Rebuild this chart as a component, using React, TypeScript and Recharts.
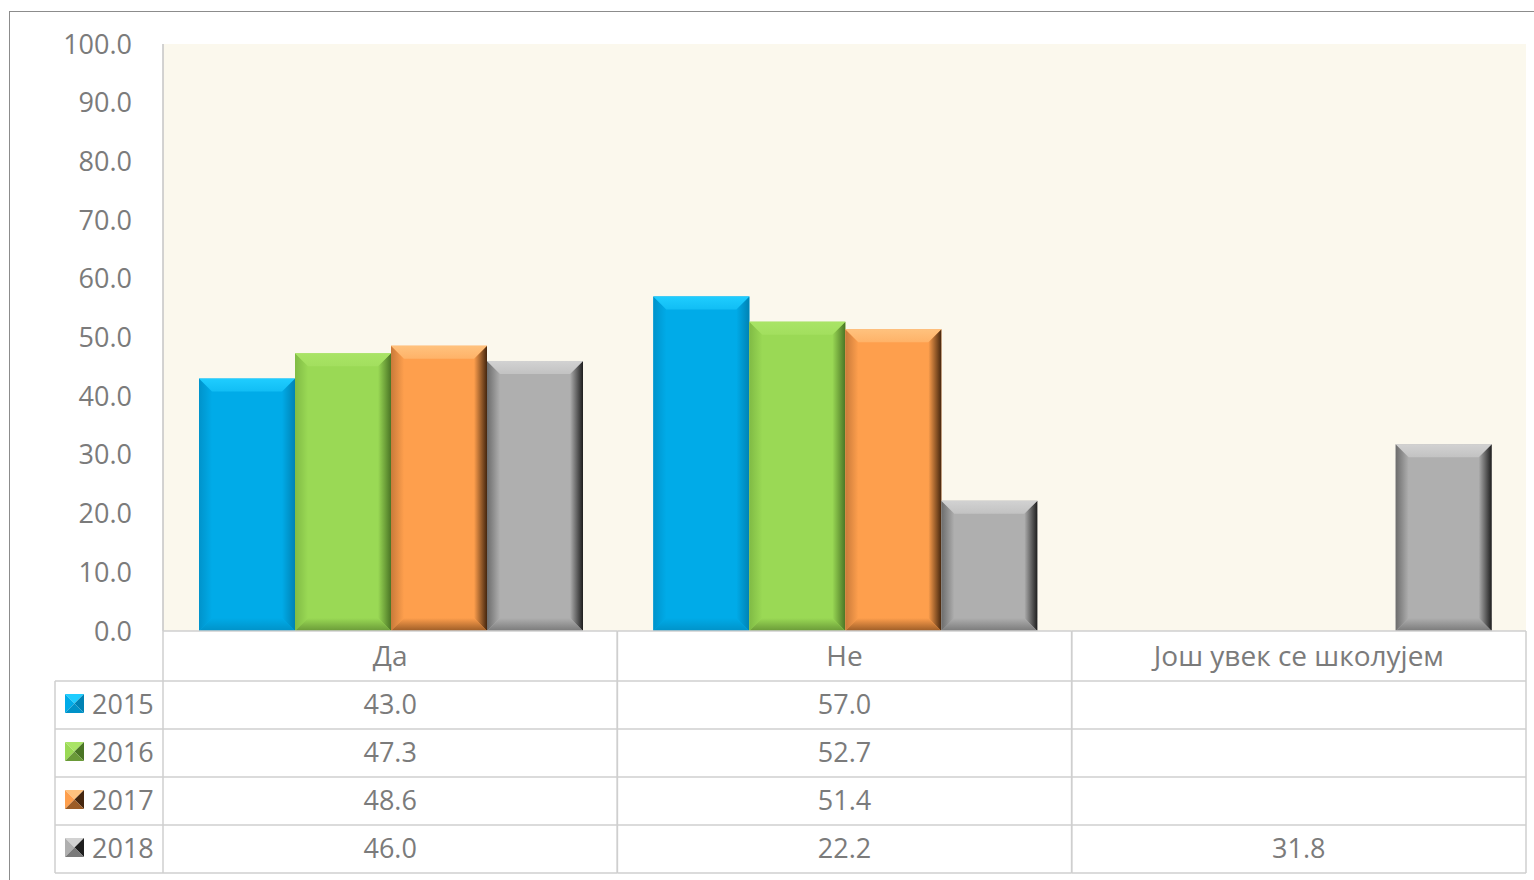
import React from 'react';
import { BarChart, Bar, XAxis, YAxis, CartesianGrid } from 'recharts';

// ---------- data ----------
const categories = ['Да', 'Не', 'Још увек се школујем'];
const seriesNames = ['2015', '2016', '2017', '2018'];
const values2015: (number | null)[] = [43.0, 57.0, null];
const values2016: (number | null)[] = [47.3, 52.7, null];
const values2017: (number | null)[] = [48.6, 51.4, null];
const values2018: (number | null)[] = [46.0, 22.2, 31.8];
const yTicks = [0, 10, 20, 30, 40, 50, 60, 70, 80, 90, 100];

const seriesValues = [values2015, values2016, values2017, values2018];
const seriesKeys = seriesNames.map((n) => 'y' + n);
const data = categories.map((c, i) => {
  const row: any = { category: c };
  seriesKeys.forEach((k, s) => {
    row[k] = seriesValues[s][i];
  });
  return row;
});

// ---------- layout / style ----------
const W = 1534;
const H = 880;
const MARGIN = { top: 44, right: 8, bottom: 7, left: 0 };
const Y_AXIS_W = 163;
const X_AXIS_H = 242;
const PLOT_W = W - MARGIN.left - MARGIN.right - Y_AXIS_W;
const HEADER_H = 50;
const ROW_H = 48;
const LEGEND_LEFT = 55;
const TEXT = '#7b7b7b';
const GRID = '#cfcfcf';
const FONT = '"Open Sans", "Noto Sans", sans-serif';
const FS = 27;

type Pal = { base: string; top: string; bottom: string; left: string; right: string };
const palettes: Pal[] = [
  { base: '#00abe8', top: '#1fcdff', bottom: '#0092c8', left: '#0093cb', right: '#0082b4' },
  { base: '#9ad955', top: '#a9e466', bottom: '#6a9a38', left: '#80bb45', right: '#4a7525' },
  { base: '#fe9f4d', top: '#ffc27e', bottom: '#9c5c26', left: '#c97a3a', right: '#45260e' },
  { base: '#afafaf', top: '#d2d2d2', bottom: '#7a7a7a', left: '#6c6c6c', right: '#1e1e1e' },
];

const makeBevel = (p: Pal, id: string) => (props: any) => {
  const { x, y, width: w, height: h, index } = props;
  if (h == null || !(h > 0) || !(w > 0)) return <g />;
  const b = Math.min(13, w / 2, h / 2);
  const gid = `${id}-${index}`;
  return (
    <g>
      <defs>
        <linearGradient id={`${gid}-l`} x1="0" y1="0" x2="1" y2="0">
          <stop offset="0" stopColor={p.left} />
          <stop offset="1" stopColor={p.base} />
        </linearGradient>
        <linearGradient id={`${gid}-r`} x1="0" y1="0" x2="1" y2="0">
          <stop offset="0" stopColor={p.base} />
          <stop offset="1" stopColor={p.right} />
        </linearGradient>
        <linearGradient id={`${gid}-t`} x1="0" y1="0" x2="0" y2="1">
          <stop offset="0" stopColor={p.top} />
          <stop offset="1" stopColor={p.top} stopOpacity={0.55} />
        </linearGradient>
        <linearGradient id={`${gid}-b`} x1="0" y1="0" x2="0" y2="1">
          <stop offset="0" stopColor={p.base} />
          <stop offset="1" stopColor={p.bottom} />
        </linearGradient>
      </defs>
      <rect x={x} y={y} width={w} height={h} fill={p.base} />
      <polygon
        points={`${x},${y} ${x + b},${y + b} ${x + b},${y + h - b} ${x},${y + h}`}
        fill={`url(#${gid}-l)`}
      />
      <polygon
        points={`${x + w},${y} ${x + w},${y + h} ${x + w - b},${y + h - b} ${x + w - b},${y + b}`}
        fill={`url(#${gid}-r)`}
      />
      <polygon
        points={`${x},${y + h} ${x + b},${y + h - b} ${x + w - b},${y + h - b} ${x + w},${y + h}`}
        fill={`url(#${gid}-b)`}
      />
      <polygon
        points={`${x},${y} ${x + w},${y} ${x + w - b},${y + b} ${x + b},${y + b}`}
        fill={`url(#${gid}-t)`}
      />
    </g>
  );
};

const LegendMarker = ({ x, y, p }: { x: number; y: number; p: Pal }) => {
  const s = 19;
  const cx = x + s / 2;
  const cy = y + s / 2;
  return (
    <g>
      <polygon points={`${x},${y} ${x + s},${y} ${cx},${cy}`} fill={p.top} />
      <polygon points={`${x},${y} ${cx},${cy} ${x},${y + s}`} fill={p.base} />
      <polygon points={`${x + s},${y} ${x + s},${y + s} ${cx},${cy}`} fill={p.right} />
      <polygon points={`${x},${y + s} ${cx},${cy} ${x + s},${y + s}`} fill={p.bottom} />
    </g>
  );
};

const TableColumn = (props: any) => {
  const { x, y, payload } = props;
  const i: number = payload && payload.index != null ? payload.index : props.index;
  const bw = PLOT_W / categories.length;
  const left = x - bw / 2;
  const right = x + bw / 2;
  const top = y;
  const rowsTop = top + HEADER_H;
  const bottom = rowsTop + ROW_H * seriesNames.length;
  const lines: React.ReactNode[] = [];
  lines.push(<line key="t" x1={left} x2={right} y1={top} y2={top} stroke={GRID} strokeWidth={1.5} />);
  lines.push(<line key="l" x1={left} x2={left} y1={top} y2={bottom} stroke={GRID} strokeWidth={1.5} />);
  lines.push(<line key="r" x1={right} x2={right} y1={top} y2={bottom} stroke={GRID} strokeWidth={1.5} />);
  const xStart = i === 0 ? LEGEND_LEFT : left;
  for (let r = 0; r <= seriesNames.length; r++) {
    const yy = rowsTop + r * ROW_H;
    lines.push(<line key={'h' + r} x1={xStart} x2={right} y1={yy} y2={yy} stroke={GRID} strokeWidth={1.5} />);
  }
  if (i === 0) {
    lines.push(
      <line key="lg" x1={LEGEND_LEFT} x2={LEGEND_LEFT} y1={rowsTop} y2={bottom} stroke={GRID} strokeWidth={1.5} />
    );
  }
  return (
    <g>
      {lines}
      <text
        x={x}
        y={top + HEADER_H / 2 - 1}
        textAnchor="middle"
        dominantBaseline="central"
        fill={TEXT}
        fontSize={FS + 1}
        fontFamily={FONT}
      >
        {categories[i]}
      </text>
      {seriesNames.map((name, s) => {
        const v = seriesValues[s][i];
        return (
          <text
            key={name}
            x={x}
            y={rowsTop + s * ROW_H + ROW_H / 2 - 2}
            textAnchor="middle"
            dominantBaseline="central"
            fill={TEXT}
            fontSize={FS}
            fontFamily={FONT}
          >
            {v == null ? '' : v.toFixed(1)}
          </text>
        );
      })}
      {i === 0 &&
        seriesNames.map((name, s) => (
          <g key={'lg' + name}>
            <LegendMarker x={LEGEND_LEFT + 10} y={rowsTop + s * ROW_H + ROW_H / 2 - 11} p={palettes[s]} />
            <text
              x={LEGEND_LEFT + 37}
              y={rowsTop + s * ROW_H + ROW_H / 2 - 2}
              textAnchor="start"
              dominantBaseline="central"
              fill={TEXT}
              fontSize={FS}
              fontFamily={FONT}
            >
              {name}
            </text>
          </g>
        ))}
    </g>
  );
};

export default function App() {
  return (
    <div
      style={{
        position: 'absolute',
        left: 0,
        top: 0,
        width: W,
        height: H,
        overflow: 'hidden',
        background: '#ffffff',
        fontFamily: FONT,
      }}
    >
      <div
        style={{
          position: 'absolute',
          left: 9,
          top: 11,
          width: 1600,
          height: 1000,
          border: '1.5px solid #8c8c8c',
        }}
      />
      <div style={{ position: 'absolute', left: 0, top: 0 }}>
        <BarChart
          width={W}
          height={H}
          data={data}
          margin={MARGIN}
          barCategoryGap={36}
          barGap={0}
        >
          <CartesianGrid fill="#fbf8ed" horizontal={false} vertical={false} stroke="none" />
          <YAxis
            type="number"
            domain={[0, 100]}
            ticks={yTicks}
            width={Y_AXIS_W}
            interval={0}
            tickFormatter={(v: number) => v.toFixed(1)}
            tickSize={0}
            tickMargin={31}
            axisLine={{ stroke: '#c4c4c4', strokeWidth: 1.5 }}
            tick={{ fill: TEXT, fontSize: FS, fontFamily: FONT }}
          />
          <XAxis
            dataKey="category"
            height={X_AXIS_H}
            interval={0}
            tickSize={0}
            tickMargin={0}
            axisLine={false}
            tickLine={false}
            tick={<TableColumn />}
          />
          {seriesKeys.map((k, s) => (
            <Bar
              key={k}
              dataKey={k}
              name={seriesNames[s]}
              fill={palettes[s].base}
              isAnimationActive={false}
              shape={makeBevel(palettes[s], 'bv' + s)}
            />
          ))}
        </BarChart>
      </div>
    </div>
  );
}
